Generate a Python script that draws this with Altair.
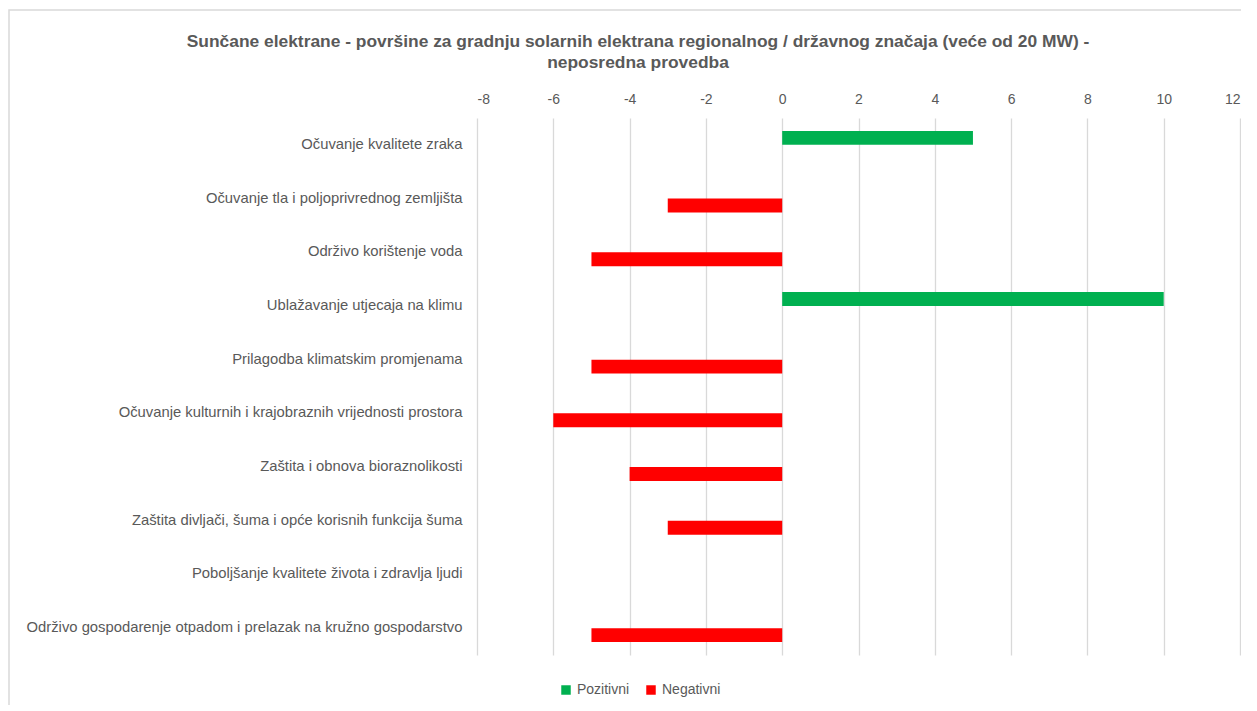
import altair as alt
import pandas as pd

categories = [
    "Očuvanje kvalitete zraka",
    "Očuvanje tla i poljoprivrednog zemljišta",
    "Održivo korištenje voda",
    "Ublažavanje utjecaja na klimu",
    "Prilagodba klimatskim promjenama",
    "Očuvanje kulturnih i krajobraznih vrijednosti prostora",
    "Zaštita i obnova bioraznolikosti",
    "Zaštita divljači, šuma i opće korisnih funkcija šuma",
    "Poboljšanje kvalitete života i zdravlja ljudi",
    "Održivo gospodarenje otpadom i prelazak na kružno gospodarstvo",
]
pozitivni = [5, None, None, 10, None, None, None, None, None, None]
negativni = [None, -3, -5, None, -5, -6, -4, -3, None, -5]
series = ["Pozitivni", "Negativni"]
colors = ["#00b050", "#ff0000"]
x_ticks = list(range(-8, 13, 2))
title_lines = [
    "Sunčane elektrane - površine za gradnju solarnih elektrana regionalnog / državnog značaja (veće od 20 MW) -",
    "neposredna provedba",
]

rows = []
for c, p, n in zip(categories, pozitivni, negativni):
    if p is not None:
        rows.append({"cat": c, "series": "Pozitivni", "value": p})
    if n is not None:
        rows.append({"cat": c, "series": "Negativni", "value": n})
df = pd.DataFrame(rows)

TXT = "#595959"
FONT = "Liberation Sans"

bars = alt.Chart(df).mark_bar(stroke=None).encode(
    x=alt.X("value:Q",
            scale=alt.Scale(domain=[-8, 12], nice=False, zero=False),
            axis=alt.Axis(orient="top", values=x_ticks, title=None, grid=True,
                          gridColor="#d9d9d9", gridWidth=1.3, domain=False, ticks=False,
                          labelColor=TXT, labelFontSize=14, labelFont=FONT,
                          labelPadding=12, labelExpr="'' + datum.value")),
    y=alt.Y("cat:N", sort=categories,
            scale=alt.Scale(domain=categories, paddingInner=0.48, paddingOuter=0.24),
            axis=alt.Axis(title=None, domain=False, ticks=False, grid=False,
                          labelColor=TXT, labelFontSize=14.8, labelFont=FONT,
                          labelPadding=15, labelLimit=700)),
    yOffset=alt.YOffset("series:N", sort=series,
                        scale=alt.Scale(domain=series, paddingInner=0, paddingOuter=0)),
    color=alt.Color("series:N", sort=series,
                    scale=alt.Scale(domain=series, range=colors),
                    legend=alt.Legend(title=None, orient="none", direction="horizontal",
                                      legendX=82, legendY=565, symbolType="square",
                                      symbolSize=90, labelFontSize=14, labelFont=FONT,
                                      labelColor=TXT, columnPadding=14, symbolStrokeWidth=0,
                                      labelOffset=4)),
)

border = alt.Chart(pd.DataFrame({"k": [0]})).mark_rect(
    fill=None, stroke="#d9d9d9", strokeWidth=1.5
).encode(
    x=alt.value(-468), x2=alt.value(800),
    y=alt.value(-108), y2=alt.value(700),
)

title_df = pd.DataFrame({"line": title_lines, "i": [0, 1]})
title = alt.Chart(title_df).mark_text(
    font=FONT, fontSize=17.4, fontWeight="bold", color=TXT, align="center", baseline="middle"
).encode(
    text="line:N",
    x=alt.value(638 - 477),
    y=alt.Y("i:Q", scale=alt.Scale(domain=[0, 1], range=[-76, -55]), axis=None),
)

chart = alt.layer(border, bars, title).resolve_scale(y="independent").properties(
    width=763, height=537,
    autosize=alt.AutoSizeParams(type="none"),
    padding={"left": 469, "top": 110, "right": 1, "bottom": 50},
).configure_view(stroke=None)

chart.save("out.html", embed_options={"renderer": "svg", "actions": False})
